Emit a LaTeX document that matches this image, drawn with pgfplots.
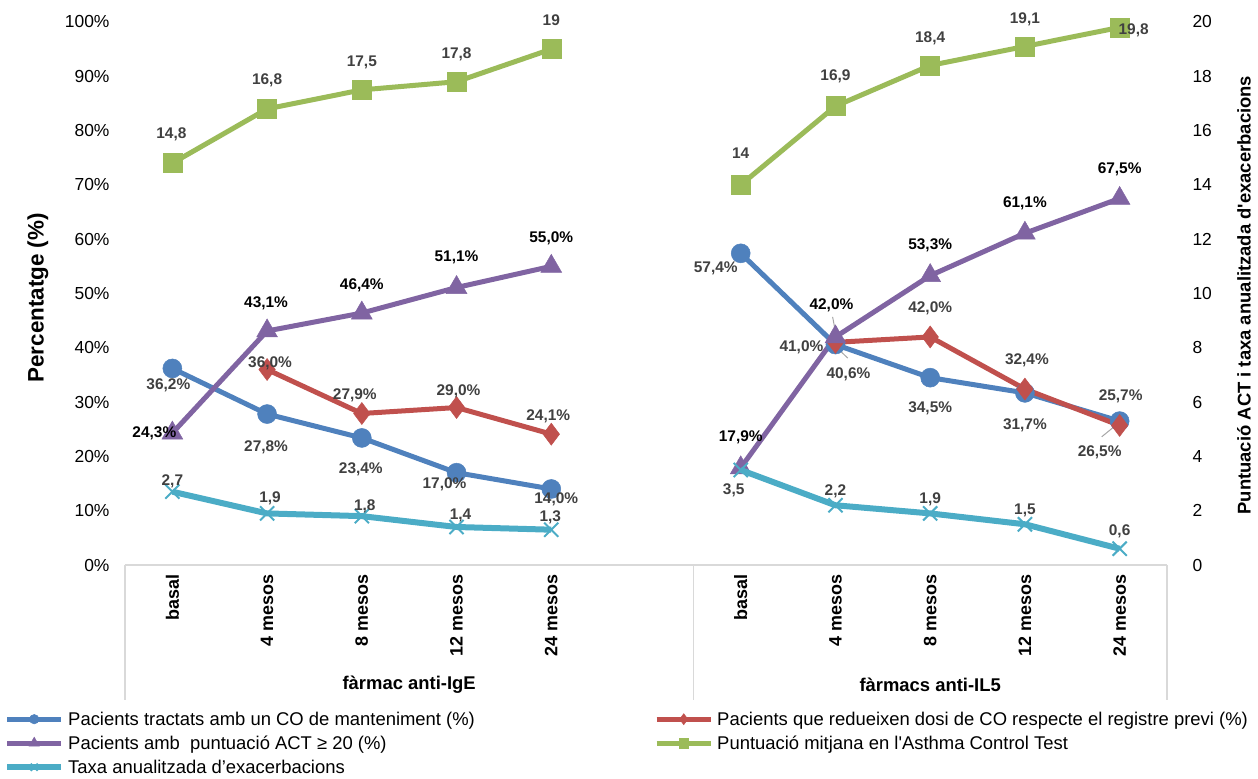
\documentclass[border=0pt]{standalone}
\usepackage{fontspec}
\setmainfont{Liberation Sans}[Ligatures=TeXOff]
\usepackage{pgfplots}
\pgfplotsset{compat=1.18}
\usepackage{pgfplotstable}

\definecolor{cBlue}{HTML}{4F81BD}
\definecolor{cRed}{HTML}{C0504D}
\definecolor{cPurple}{HTML}{8064A2}
\definecolor{cGreen}{HTML}{9BBB59}
\definecolor{cCyan}{HTML}{4BACC6}
\definecolor{lblgray}{HTML}{404040}
\definecolor{sepgray}{HTML}{D9D9D9}
\definecolor{leadgray}{HTML}{A6A6A6}

% x y dx dy   (dx, dy: label offsets in bp)
\pgfplotstableread{
x y dx dy
0 36.2 -4 -17
1 27.8 -1 -33
2 23.4 -1 -31
3 17.0 -12 -12
4 14.0 5 -10
5 nan 0 0
6 57.4 -25 -15
7 40.6 13 -30
8 34.5 0 -31
9 31.7 0 -32
10 26.5 -20 -31
}\tblB

\pgfplotstableread{
x y dx dy
1 36.0 3 6
2 27.9 -7 18
3 29.0 2 16
4 24.1 -3 18
5 nan 0 0
7 41.0 -34 -5
8 42.0 0 29
9 32.4 2 29
10 25.7 1 29
}\tblR

\pgfplotstableread{
x y dx dy
0 24.3 -18 0
1 43.1 -1 28
2 46.4 0 28
3 51.1 0 30
4 55.0 0 28
5 nan 0 0
6 17.9 0 30
7 42.0 -4 32
8 53.3 0 30
9 61.1 0 30
10 67.5 0 29
}\tblP

\pgfplotstableread{
x y dx dy
0 14.8 -1 29
1 16.8 0 29
2 17.5 0 27
3 17.8 0 27
4 19 0 29
5 nan 0 0
6 14 0 32
7 16.9 0 30
8 18.4 0 27
9 19.1 0 27
10 19.8 14 -3
}\tblG

\pgfplotstableread{
x y dx dy
0 2.7 0 10
1 1.9 3 15
2 1.8 3 10
3 1.4 4 12
4 1.3 -1 12
5 nan 0 0
6 3.5 -7 -20
7 2.2 0 14
8 1.9 0 14
9 1.5 0 14
10 0.6 0 17
}\tblC

\pgfplotsset{
  base/.style={
    scale only axis, width=1042bp, height=543bp,
    at={(0,0)}, anchor=south west,
    xmin=-0.5, xmax=10.5, clip=false,
    /pgf/number format/assume math mode=true,
    unbounded coords=jump,
    major tick length=0pt,
    axis line style={draw=none},
    legend cell align=left,
    legend image code/.code={\draw[##1, mark repeat=2, mark phase=2, every mark/.append style={scale=0.5}] plot coordinates {(0bp,0bp) (27bp,0bp) (54bp,0bp)};},
  },
  lbl/.style={
    point meta=y,
    nodes near coords style={font=\bfseries\fontsize{15.5}{18}\selectfont, text=lblgray, anchor=center, inner sep=0pt, xshift=\dx bp, yshift=\dy bp},
    visualization depends on={\thisrow{dx} \as \dx},
    visualization depends on={\thisrow{dy} \as \dy},
  },
  pctlbl/.style={lbl, nodes near coords={\pgfmathprintnumber[fixed, fixed zerofill, precision=1, use comma]{\pgfplotspointmeta}\%}},
  numlbl/.style={lbl, nodes near coords={\pgfmathprintnumber[fixed, precision=1, use comma]{\pgfplotspointmeta}}},
  sB/.style={color=cBlue, line width=5bp, mark=*, mark size=9.5bp, mark options={solid, line width=0.5bp}},
  sR/.style={color=cRed, line width=5bp, mark=diamond*, mark size=11bp, mark options={solid, line width=0.5bp}},
  sP/.style={color=cPurple, line width=5bp, mark=triangle*, mark size=12bp, mark options={solid, line width=0.5bp}},
  sG/.style={color=cGreen, line width=5bp, mark=square*, mark size=9.5bp, mark options={solid, line width=0.5bp}},
  sC/.style={color=cCyan, line width=6bp, mark=x, mark size=10bp, mark options={solid, line width=2bp}},
  leg/.style={legend style={draw=none, fill=none, inner sep=0pt, row sep=9bp,
      font=\fontsize{18.5}{22}\selectfont,
      nodes={text height=13bp, text depth=0bp, inner xsep=4bp, inner ysep=1bp}}},
}

\begin{document}
\begin{tikzpicture}
\begin{axis}[base, leg,
  axis lines=left,
  ymin=0, ymax=100, ytick={0,10,...,100},
  yticklabel={\pgfmathprintnumber{\tick}\%},
  yticklabel style={font=\fontsize{17.5}{20}\selectfont},
  yticklabel shift=12bp,
  xtick={0,1,2,3,4,6,7,8,9,10},
  xticklabels={basal,4 mesos,8 mesos,12 mesos,24 mesos,basal,4 mesos,8 mesos,12 mesos,24 mesos},
  xticklabel style={rotate=90, anchor=east, font=\bfseries\fontsize{18}{20}\selectfont},
  xticklabel shift=6bp,
  ylabel={Percentatge (\%)},
  ylabel style={at={(axis description cs:-0.0835,0.492)}, anchor=center, font=\bfseries\fontsize{22.5}{26}\selectfont},
  legend style={at={(axis description cs:-0.1161,-0.2698)}, anchor=north west},
]
\draw[sepgray, line width=1.3bp] (axis cs:-0.5,0) -- (axis cs:10.5,0);
\draw[sepgray, line width=1.3bp] (axis cs:-0.5,0) -- ++(0bp,-135bp);
\draw[sepgray, line width=1.3bp] (axis cs:5.5,0) -- ++(0bp,-135bp);
\draw[sepgray, line width=1.3bp] (axis cs:10.5,0) -- ++(0bp,-135bp);
\node[font=\bfseries\fontsize{18.5}{22}\selectfont] at ([yshift=-120bp]axis cs:2.5,0) {fàrmac anti-IgE};
\node[font=\bfseries\fontsize{18.5}{22}\selectfont] at ([yshift=-120bp]axis cs:8,0) {fàrmacs anti-IL5};

\addplot[sB, pctlbl] table[x=x, y=y] {\tblB};
\addlegendentry{Pacients tractats amb un CO de manteniment (\%)}
\addplot[sR, pctlbl, forget plot] table[x=x, y=y] {\tblR};
\addplot[sP, pctlbl, nodes near coords style={text=black}] table[x=x, y=y] {\tblP};
\addlegendentry{Pacients amb~ puntuació ACT ≥ 20 (\%)}
\addlegendimage{sC}
\addlegendentry{Taxa anualitzada d’exacerbacions}

\draw[leadgray, line width=1bp] (axis cs:6.97,45.7) -- (axis cs:7.01,42.0);
\draw[leadgray, line width=1bp] (axis cs:7.01,40.1) -- (axis cs:7.13,38.1);
\draw[leadgray, line width=1bp] (axis cs:9.81,23.6) -- (axis cs:10.0,26.3);
\end{axis}

\begin{axis}[base, leg,
  axis y line=right, axis x line=bottom,
  xtick=\empty,
  ymin=0, ymax=20, ytick={0,2,...,20},
  yticklabel style={font=\fontsize{17.5}{20}\selectfont, anchor=west},
  yticklabel shift=22bp,
  ylabel={Puntuació ACT i taxa anualitzada d'exacerbacions},
  ylabel style={at={(axis description cs:1.0739,0.497)}, anchor=center, font=\bfseries\fontsize{18.5}{22}\selectfont},
  legend style={at={(axis description cs:0.5077,-0.2698)}, anchor=north west},
]
\addlegendimage{sR}
\addlegendentry{Pacients que redueixen dosi de CO respecte el registre previ (\%)}
\addplot[sG, numlbl] table[x=x, y=y] {\tblG};
\addlegendentry{Puntuació mitjana en l'Asthma Control Test}
\addplot[sC, numlbl, forget plot] table[x=x, y=y] {\tblC};
\end{axis}
\pgfresetboundingbox
\path[use as bounding box] (-125bp,-214bp) rectangle (1133bp,565bp);
\end{tikzpicture}
\end{document}
